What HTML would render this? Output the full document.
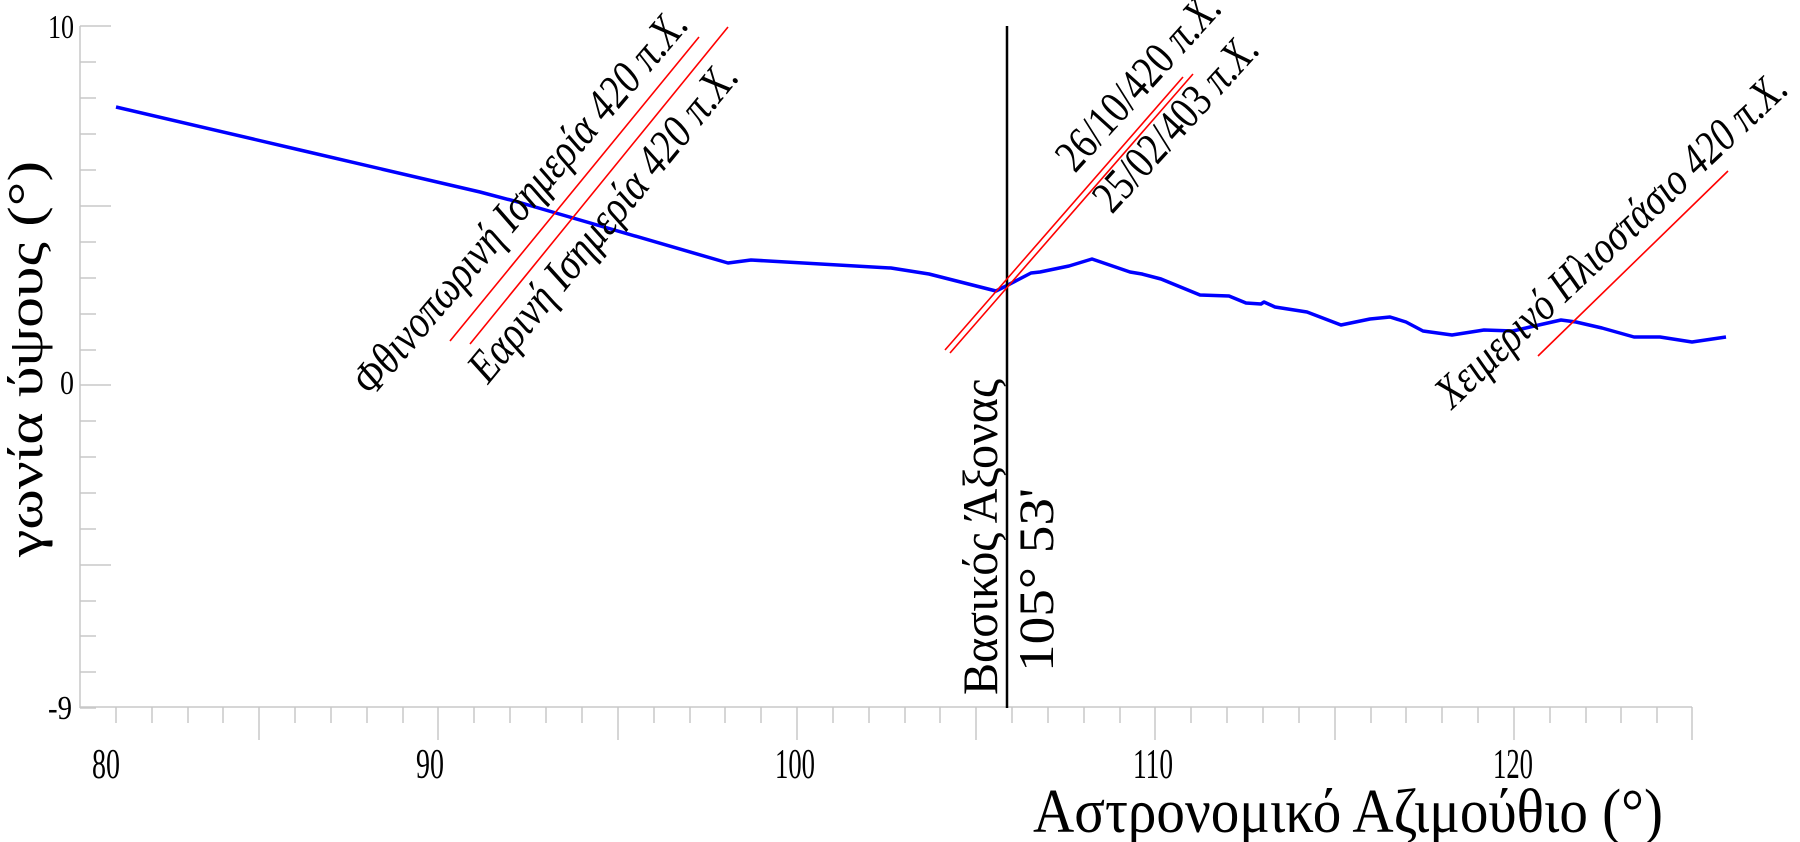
<!DOCTYPE html>
<html><head><meta charset="utf-8"><style>html,body{margin:0;padding:0;background:#fff}svg{display:block}</style></head>
<body>
<svg width="1800" height="842" viewBox="0 0 1800 842" xmlns="http://www.w3.org/2000/svg" font-family="'Liberation Serif', 'DejaVu Serif', serif">
<g stroke="#c8c8c8" stroke-width="1.5" fill="none">
<line x1="80" y1="26" x2="80" y2="708"/>
<line x1="80" y1="707" x2="1692" y2="707"/>
<path d="M80 26H111M80 62H96M80 98H96M80 134H96M80 170H96M80 206H111M80 242H96M80 278H96M80 314H96M80 350H96M80 385H111M80 421H96M80 457H96M80 493H96M80 529H96M80 565H111M80 601H96M80 636H96M80 672H96M80 708H96"/>
<path d="M116 707V723M152 707V723M188 707V723M223 707V723M259 707V740M295 707V723M331 707V723M367 707V723M403 707V723M438 707V740M474 707V723M510 707V723M546 707V723M582 707V723M618 707V740M654 707V723M690 707V723M725 707V723M761 707V723M797 707V740M833 707V723M869 707V723M905 707V723M940 707V723M976 707V740M1012 707V723M1048 707V723M1084 707V723M1120 707V723M1155 707V740M1191 707V723M1227 707V723M1263 707V723M1299 707V723M1335 707V740M1371 707V723M1406 707V723M1442 707V723M1478 707V723M1514 707V740M1550 707V723M1586 707V723M1621 707V723M1657 707V723M1692 707V740"/>
</g>
<g font-size="34" fill="#000">
<text x="74" y="38" text-anchor="end" textLength="26" lengthAdjust="spacingAndGlyphs">10</text>
<text x="74" y="394" text-anchor="end" textLength="14" lengthAdjust="spacingAndGlyphs">0</text>
<text x="72" y="719" text-anchor="end" textLength="24" lengthAdjust="spacingAndGlyphs">-9</text>
</g>
<g font-size="42" fill="#000" text-anchor="middle">
<text x="106" y="778" textLength="28" lengthAdjust="spacingAndGlyphs">80</text>
<text x="430" y="778" textLength="28" lengthAdjust="spacingAndGlyphs">90</text>
<text x="795" y="778" textLength="40" lengthAdjust="spacingAndGlyphs">100</text>
<text x="1153" y="778" textLength="40" lengthAdjust="spacingAndGlyphs">110</text>
<text x="1513" y="778" textLength="40" lengthAdjust="spacingAndGlyphs">120</text>
</g>
<text x="1033" y="832" font-size="62" textLength="630" lengthAdjust="spacingAndGlyphs">Αστρονομικό Αζιμούθιο (°)</text>
<text transform="translate(42,557) rotate(-90)" font-size="50" textLength="396" lengthAdjust="spacingAndGlyphs">γωνία ύψους (°)</text>

<polyline fill="none" stroke="#0000ff" stroke-width="3.5" stroke-linejoin="round" points="116,107 300,150 480,192 518,202 728,263 751,260 891,268 929,274 996,291 1006,286 1031,273 1040,272 1069,266 1092,259 1130,272 1142,274 1161,279 1200,295 1229,296 1246,303 1261,304 1264,302 1275,307 1307,312 1341,325 1370,319 1390,317 1406,322 1423,331 1452,335 1484,330 1513,331 1530,327 1561,320 1576,322 1602,328 1634,337 1660,337 1692,342 1726,337"/>

<line x1="1007" y1="26" x2="1007" y2="708" stroke="#000" stroke-width="2.5"/>
<g stroke="#ff0000" stroke-width="1.6">
<line x1="450" y1="341" x2="699" y2="37"/>
<line x1="470" y1="344" x2="728" y2="27"/>
<line x1="945" y1="350" x2="1183" y2="77"/>
<line x1="950" y1="353" x2="1193" y2="74"/>
<line x1="1538" y1="356" x2="1728" y2="171"/>
</g>
<g fill="#000" font-size="46">
<text transform="translate(372,398) rotate(-49.5)" font-style="italic" textLength="490" lengthAdjust="spacingAndGlyphs">Φθινοπωρινή Ισημερία 420 π.Χ.</text>
<text transform="translate(488,385) rotate(-50.6)" font-style="italic" textLength="398" lengthAdjust="spacingAndGlyphs">Εαρινή Ισημερία 420 π.Χ.</text>
<text transform="translate(1075,174) rotate(-47.9)" textLength="222" lengthAdjust="spacingAndGlyphs">26/10/420 <tspan font-style="italic">π.Χ.</tspan></text>
<text transform="translate(1112,215) rotate(-47.7)" textLength="222" lengthAdjust="spacingAndGlyphs">25/02/403 <tspan font-style="italic">π.Χ.</tspan></text>
<text transform="translate(1452,410) rotate(-43.3)" font-style="italic" textLength="465" lengthAdjust="spacingAndGlyphs">Χειμερινό Ηλιοστάσιο 420 π.Χ.</text>
</g>
<g fill="#000" font-size="50">
<text transform="translate(997,695) rotate(-90)" textLength="316" lengthAdjust="spacingAndGlyphs">Βασικός Άξονας</text>
<text transform="translate(1053,672) rotate(-90)" textLength="184" lengthAdjust="spacingAndGlyphs">105° 53'</text>
</g>
</svg>
</body></html>
